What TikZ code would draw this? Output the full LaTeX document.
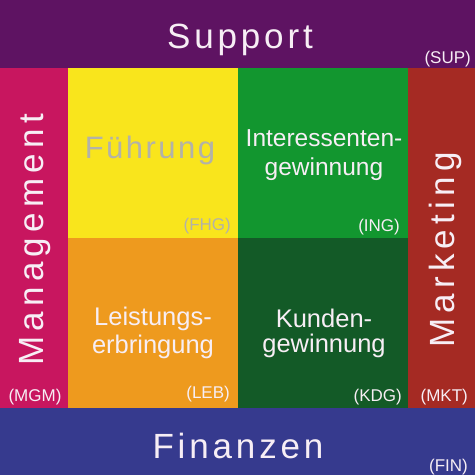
\documentclass[tikz,border=0pt]{standalone}
\usepackage{fontspec}
\setmainfont{Liberation Sans}
\newfontfamily\spacedfont[LetterSpace=15]{Liberation Sans}
\newfontfamily\midspaced[LetterSpace=11]{Liberation Sans}
\newfontfamily\lightspaced[LetterSpace=8]{Liberation Sans}
\definecolor{cSup}{HTML}{5E1362}
\definecolor{cMgm}{HTML}{C8165F}
\definecolor{cFhg}{HTML}{F9E51C}
\definecolor{cIng}{HTML}{12962F}
\definecolor{cLeb}{HTML}{EE9A1E}
\definecolor{cKdg}{HTML}{135A27}
\definecolor{cMkt}{HTML}{A52A23}
\definecolor{cFin}{HTML}{363A8E}
\definecolor{cTxt}{HTML}{F7EEF5}
\definecolor{cGray}{HTML}{B3B2A8}
\begin{document}
\begin{tikzpicture}[x=1pt,y=-1pt,
  region/.style={draw=none,inner sep=0pt,outer sep=0pt,anchor=north west},
  bigtxt/.style={inner sep=0pt,text=cTxt,font=\spacedfont\fontsize{35}{40}\selectfont},
  bandtxt/.style={inner sep=0pt,text=cTxt,font=\midspaced\fontsize{35}{40}\selectfont},
  midtxt/.style={inner sep=0pt,text=cTxt,anchor=base,font=\fontsize{25.5}{28}\selectfont},
  lbl/.style={inner sep=0pt,text=cTxt,anchor=base east,font=\fontsize{17}{20}\selectfont}]
\useasboundingbox (0,0) rectangle (475,475);
% regions
\node[region,fill=cSup,minimum width=475pt,minimum height=68pt] (sup) at (0,0) {};
\node[region,fill=cMgm,minimum width=68pt,minimum height=340pt] (mgm) at (0,68) {};
\node[region,fill=cFhg,minimum width=170pt,minimum height=170pt] (fhg) at (68,68) {};
\node[region,fill=cIng,minimum width=170pt,minimum height=170pt] (ing) at (238,68) {};
\node[region,fill=cLeb,minimum width=170pt,minimum height=170pt] (leb) at (68,238) {};
\node[region,fill=cKdg,minimum width=170pt,minimum height=170pt] (kdg) at (238,238) {};
\node[region,fill=cMkt,minimum width=67pt,minimum height=340pt] (mkt) at (408,68) {};
\node[region,fill=cFin,minimum width=475pt,minimum height=67pt] (fin) at (0,408) {};
% big titles
\node[bandtxt,anchor=base] (supT) at (240,48.5) {Support};
\node[bigtxt,anchor=base,rotate=90] (mgmT) at (43.5,240) {Management};
\node[bigtxt,anchor=base,rotate=90] (mktT) at (454.5,250) {Marketing};
\node[bandtxt,anchor=base] (finT) at (238,458) {Finanzen};
% block texts
\node[inner sep=0pt,anchor=base,text=cGray,font=\lightspaced\fontsize{31}{34}\selectfont] (fhgT) at (150,158) {Führung};
\node[midtxt,font=\fontsize{24.5}{28}\selectfont] (ingT1) at (324,146) {Interessenten-};
\node[midtxt,font=\fontsize{24.5}{28}\selectfont] (ingT2) at (324,175) {gewinnung};
\node[midtxt] (lebT1) at (153,325) {Leistungs-};
\node[midtxt] (lebT2) at (153,353) {erbringung};
\node[midtxt] (kdgT1) at (324,327) {Kunden-};
\node[midtxt] (kdgT2) at (324,352) {gewinnung};
% abbreviations
\node[lbl] (supL) at (471,63) {(SUP)};
\node[lbl,anchor=base] (mgmL) at (35,401) {(MGM)};
\node[lbl,text=cGray] (fhgL) at (231,230) {(FHG)};
\node[lbl] (ingL) at (400,231) {(ING)};
\node[lbl] (lebL) at (230,398) {(LEB)};
\node[lbl] (kdgL) at (402,401) {(KDG)};
\node[lbl] (mktL) at (468,401) {(MKT)};
\node[lbl] (finL) at (468,471) {(FIN)};
\end{tikzpicture}
\end{document}
